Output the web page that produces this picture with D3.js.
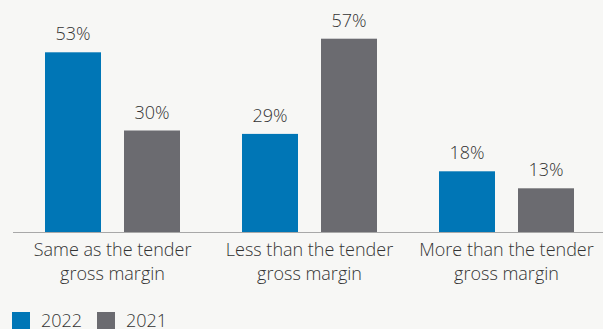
<!DOCTYPE html>
<html><head><meta charset="utf-8">
<script src="https://cdn.jsdelivr.net/npm/d3@7"></script>
<style>
html,body{margin:0;padding:0;background:#f7f7f5;}
svg{display:block;}
text{font-family:"Open Sans",sans-serif;fill:#333;font-weight:300;}
</style></head><body>
<script>
const categories = [["Same as the tender","gross margin"],["Less than the tender","gross margin"],["More than the tender","gross margin"]];
const series = ["2022","2021"];
const values2022 = [53, 29, 18];
const values2021 = [30, 57, 13];
const colors = ["#0076b6", "#6b6b70"];

const W = 603, H = 329;
const svg = d3.select("body").append("svg").attr("width", W).attr("height", H);

const baseY = 232.5;
const x0 = d3.scaleBand().domain(d3.range(categories.length)).range([14, 605]).padding(0);
const x1 = d3.scaleBand().domain(series).range([0, 135]).paddingInner(23/79).paddingOuter(0);
const y = d3.scaleLinear().domain([0, 100]).range([baseY, baseY - 340]);

const data = categories.map((c, i) => ({i, vals: [values2022[i], values2021[i]]}));

const g = svg.append("g");
const groups = g.selectAll("g.grp").data(data).join("g")
  .attr("transform", d => `translate(${x0(d.i) + (x0.bandwidth() - 135) / 2},0)`);

groups.selectAll("rect").data(d => d.vals.map((v, k) => ({v, k})))
  .join("rect")
  .attr("x", d => x1(series[d.k]))
  .attr("width", x1.bandwidth())
  .attr("y", d => y(d.v))
  .attr("height", d => baseY - y(d.v))
  .attr("fill", d => colors[d.k]);

groups.selectAll("text.val").data(d => d.vals.map((v, k) => ({v, k})))
  .join("text").attr("class", "val")
  .attr("x", d => x1(series[d.k]) + x1.bandwidth() / 2)
  .attr("y", d => y(d.v) - 12)
  .attr("text-anchor", "middle")
  .attr("font-size", 18)
  .text(d => d.v + "%");

// axis line
svg.append("line").attr("x1", 13).attr("x2", 603).attr("y1", baseY).attr("y2", baseY)
  .attr("stroke", "#a8a8a8").attr("stroke-width", 1.2);

// category labels
const labels = svg.selectAll("text.cat").data(categories).join("text").attr("class", "cat")
  .attr("text-anchor", "middle").attr("font-size", 18)
  .attr("transform", (d, i) => `translate(${x0(i) + x0.bandwidth() / 2},0)`);
labels.selectAll("tspan").data(d => d).join("tspan")
  .attr("x", 0).attr("y", (d, j) => 256 + j * 24).text(d => d);

// legend
const leg = svg.append("g");
const legX = [12, 97];
series.forEach((s, k) => {
  leg.append("rect").attr("x", legX[k]).attr("y", 312).attr("width", 18).attr("height", 18).attr("fill", colors[k]);
  leg.append("text").attr("x", legX[k] + 29).attr("y", 326.5).attr("font-size", 18).text(s);
});
</script>
</body></html>
